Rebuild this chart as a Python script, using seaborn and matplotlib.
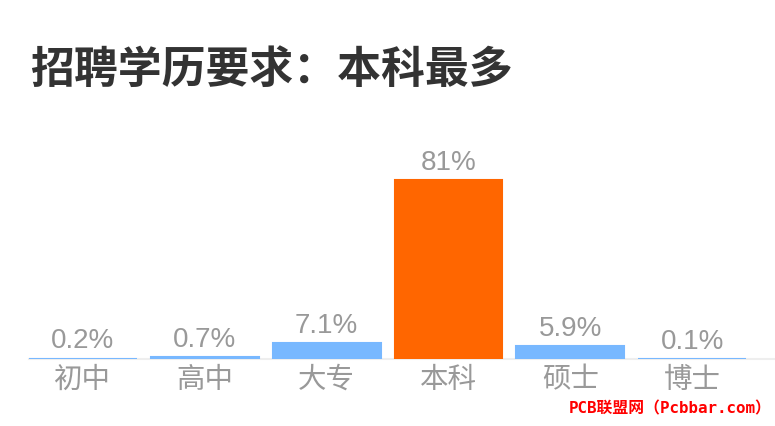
import numpy as np
import pandas as pd
import matplotlib
matplotlib.use("Agg")
import matplotlib.pyplot as plt
import seaborn as sns

categories = ["初中", "高中", "大专", "本科", "硕士", "博士"]
values = [0.2, 0.7, 7.1, 81, 5.9, 0.1]
value_labels = ["0.2%", "0.7%", "7.1%", "81%", "5.9%", "0.1%"]
highlight = "本科"

sns.set_theme(style="white")
plt.rcParams['font.family'] = ['Noto Sans CJK SC', 'DejaVu Sans']

df = pd.DataFrame({"edu": categories, "pct": values})
colors = {c: ("#FF6600" if c == highlight else "#78B8FF") for c in categories}

fig = plt.figure(figsize=(7.75, 4.26), dpi=100)
ax = fig.add_axes([29 / 775, 1 - 359 / 426, 1 - 29 / 775, 209 / 426])

sns.barplot(data=df, x="edu", y="pct", hue="edu", palette=colors, legend=False,
            width=0.885, ax=ax, linewidth=1.5, saturation=1)
for p, c in zip(ax.patches, categories):
    p.set_edgecolor(colors[c])
    p.set_zorder(3)

ax.set_xlim(-0.443, 5.68)
ax.set_ylim(0, 94.6)

for i, (v, lab) in enumerate(zip(values, value_labels)):
    ax.annotate(lab, (i, v), xytext=(0, 3), textcoords="offset points",
                ha="center", va="bottom", fontsize=20, color="#999999",
                family=["Liberation Sans", "DejaVu Sans"])

ax.set_xlabel("")
ax.set_ylabel("")
ax.set_yticks([])
ax.tick_params(axis="x", length=0, pad=4, labelsize=20.5, labelcolor="#999999")
sns.despine(ax=ax, left=True, top=True, right=True)
ax.spines["bottom"].set_color("#EEEEEE")
ax.spines["bottom"].set_linewidth(1.5)
ax.spines["bottom"].set_zorder(1)

fig.text(30 / 775, 1 - 70 / 426, "招聘学历要求：本科最多", fontsize=31.6, fontweight="bold",
         color="#333333", va="center", ha="left")
fig.text(569 / 775, 1 - 409 / 426, "PCB联盟网（Pcbbar.com）", fontsize=11.4,
         fontweight="bold", color="#FF0000", va="center", ha="left",
         family=["DejaVu Sans Mono", "Noto Sans CJK SC"])

fig.savefig("out.png", dpi=100)
